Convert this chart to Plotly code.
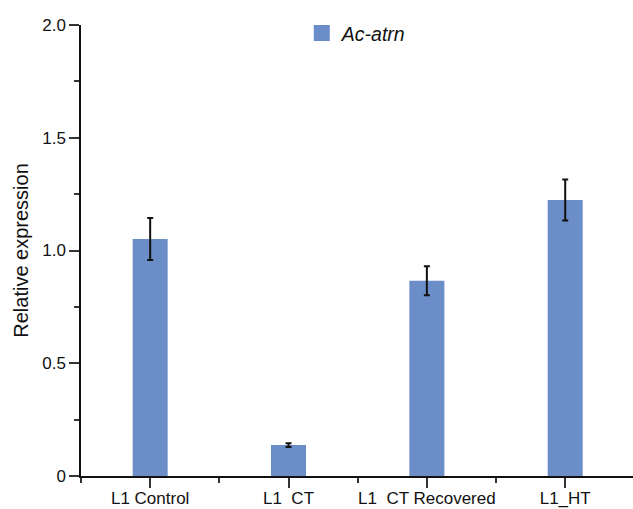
import plotly.graph_objects as go

categories = ["L1 Control", "L1  CT", "L1  CT Recovered", "L1_HT"]
values = [1.051, 0.137, 0.866, 1.224]
errors = [0.093, 0.008, 0.064, 0.091]
series_name = "Ac-atrn"
y_tickvals = [0, 0.5, 1.0, 1.5, 2.0]
y_ticktext = ["0", "0.5", "1.0", "1.5", "2.0"]

x_idx = list(range(len(categories)))
bar_color = "#6b8dc8"

fig = go.Figure()
fig.add_trace(go.Bar(
    x=x_idx, y=values, width=0.253,
    name=f"<i>{series_name}</i>",
    marker=dict(color=bar_color, line=dict(width=0)),
    error_y=dict(type="data", array=errors, visible=True,
                 color="#111111", thickness=2, width=3),
    showlegend=False,
))
# legend proxy with a larger swatch
fig.add_trace(go.Scatter(
    x=[None], y=[None], mode="markers",
    name=f"<i>{series_name}</i>",
    marker=dict(symbol="square", size=16, color=bar_color),
    showlegend=True,
))

font_family = "Liberation Sans, Arial, sans-serif"
fig.update_layout(
    width=633, height=509,
    margin=dict(l=81, r=0, t=25, b=33),
    paper_bgcolor="white", plot_bgcolor="white",
    font=dict(family=font_family, size=17, color="#111111"),
    showlegend=True,
    legend=dict(x=0.4, y=1.025, xanchor="left", yanchor="top",
                font=dict(size=19.5, color="#111111"),
                bgcolor="rgba(0,0,0,0)", itemwidth=30),
    xaxis=dict(
        range=[-0.5, 3.49], automargin=False,
        tickmode="array", tickvals=x_idx, ticktext=categories,
        showline=True, linecolor="#111111", linewidth=1.5,
        ticks="outside", ticklen=10, tickwidth=1.5, tickcolor="#333333",
        ticklabelstandoff=-4,
        showgrid=False, zeroline=False,
        tickfont=dict(size=17, color="#111111"),
        minor=dict(tickmode="linear", tick0=-0.5, dtick=1, ticks="outside",
                   ticklen=5, tickwidth=1.5, tickcolor="#333333", showgrid=False),
    ),
    yaxis=dict(
        range=[0, 2.0], automargin=False,
        tickmode="array", tickvals=y_tickvals, ticktext=y_ticktext,
        showline=True, linecolor="#111111", linewidth=1.5,
        ticks="outside", ticklen=10, tickwidth=1.5, tickcolor="#333333",
        showgrid=False, zeroline=False,
        tickfont=dict(size=17, color="#111111"),
        minor=dict(tickmode="linear", tick0=0, dtick=0.25, ticks="outside",
                   ticklen=5, tickwidth=1.5, tickcolor="#333333", showgrid=False),
        title=dict(text="Relative expression", font=dict(size=20, color="#111111"),
                   standoff=8),
    ),
)

fig.write_html("out.html")
